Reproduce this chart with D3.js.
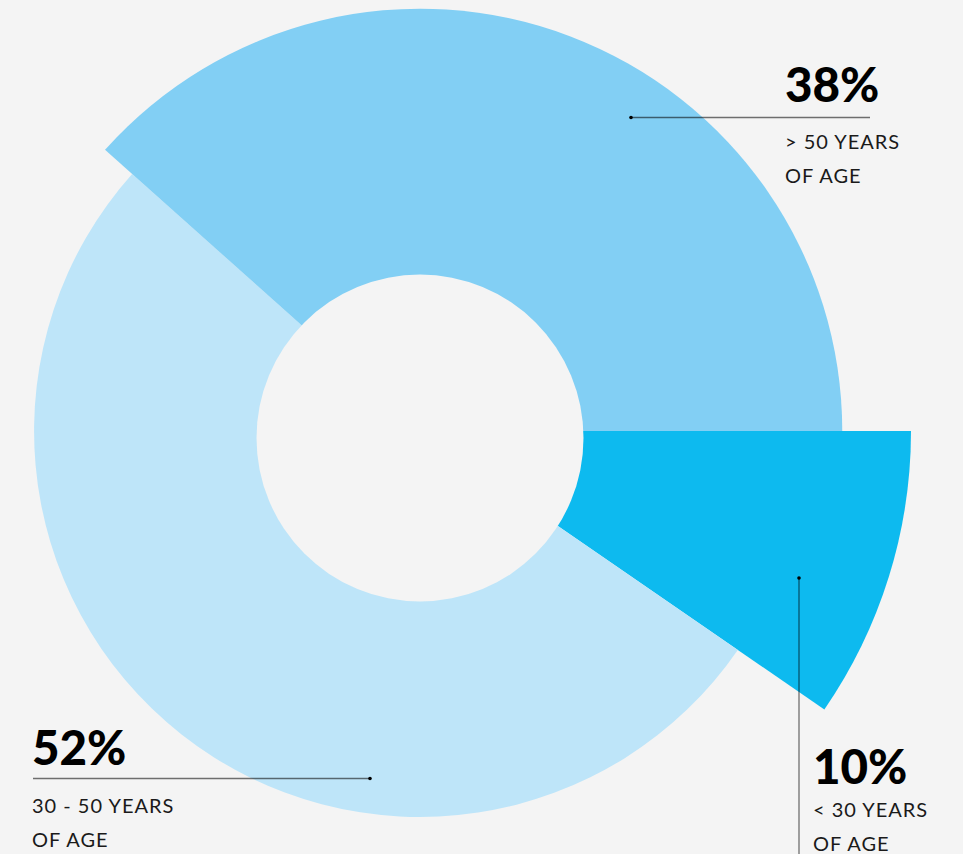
<!DOCTYPE html>
<html>
<head>
<meta charset="utf-8">
<script src="https://cdn.jsdelivr.net/npm/d3@7"></script>
<style>
  html, body { margin: 0; padding: 0; background: #f4f4f4; }
  svg { display: block; }
</style>
</head>
<body>
<svg id="chart" width="963" height="854"></svg>
<script>
// ---- data ----
const categories = ["< 30 YEARS", "30 - 50 YEARS", "> 50 YEARS"];
const subLabels = ["OF AGE", "OF AGE", "OF AGE"];
const percentLabels = ["10%", "52%", "38%"];
const values = [9.6, 52, 38.4];          // slice sizes as drawn
const depths = [100, 78.6, 86];          // relative outer radius of each slice
const colors = ["#0dbaef", "#bee5f9", "#82cff4"];

// ---- layout ----
const W = 963, H = 854;
const cx = 420, cy = 431;
const maxR = 491;
const holeR = 163.5, holeCx = 420, holeCy = 438;

const svg = d3.select("#chart");
svg.append("rect").attr("width", W).attr("height", H).attr("fill", "#f4f4f4");

const rScale = d3.scaleLinear().domain([0, 100]).range([0, maxR]);
const pie = d3.pie().value(d => d).sort(null)
  .startAngle(Math.PI / 2).endAngle(Math.PI / 2 + 2 * Math.PI);
const arcs = pie(values);

const g = svg.append("g").attr("transform", `translate(${cx},${cy})`);
g.selectAll("path.slice").data(arcs).join("path")
  .attr("class", "slice")
  .attr("fill", (d, i) => colors[i])
  .attr("d", (d, i) => d3.arc().innerRadius(0).outerRadius(rScale(depths[i]))(d));

svg.append("circle").attr("cx", holeCx).attr("cy", holeCy).attr("r", holeR)
  .attr("fill", "#f4f4f4");

// ---- annotations ----
const ann = [
  // 10%
  { i: 0, line: [[799, 578], [799, 860]], dot: [799, 578], tx: 813, pctY: 784, l1Y: 817, l2Y: 851 },
  // 52%
  { i: 1, line: [[33, 778.5], [370, 778.5]], dot: [370, 778.5], tx: 32, pctY: 765, l1Y: 813, l2Y: 847 },
  // 38%
  { i: 2, line: [[631, 117.5], [870, 117.5]], dot: [631, 117.5], tx: 785, pctY: 102, l1Y: 149, l2Y: 183 }
];

const a = svg.append("g");
ann.forEach(o => {
  a.append("line")
    .attr("x1", o.line[0][0]).attr("y1", o.line[0][1])
    .attr("x2", o.line[1][0]).attr("y2", o.line[1][1])
    .attr("stroke", "#000").attr("stroke-opacity", 0.55).attr("stroke-width", 1.3);
  a.append("circle").attr("cx", o.dot[0]).attr("cy", o.dot[1]).attr("r", 1.8).attr("fill", "#000");
  a.append("text").attr("x", o.tx).attr("y", o.pctY)
    .attr("font-family", "Lato, sans-serif").attr("font-weight", 900)
    .attr("font-size", 47.5).attr("fill", "#000").text(percentLabels[o.i]);
  a.append("text").attr("x", o.tx).attr("y", o.l1Y)
    .attr("font-family", "Lato, sans-serif").attr("font-weight", 400)
    .attr("font-size", 20).attr("letter-spacing", 1).attr("fill", "#1a1a1a").text(categories[o.i]);
  a.append("text").attr("x", o.tx).attr("y", o.l2Y)
    .attr("font-family", "Lato, sans-serif").attr("font-weight", 400)
    .attr("font-size", 20).attr("letter-spacing", 1).attr("fill", "#1a1a1a").text(subLabels[o.i]);
});
</script>
</body>
</html>
